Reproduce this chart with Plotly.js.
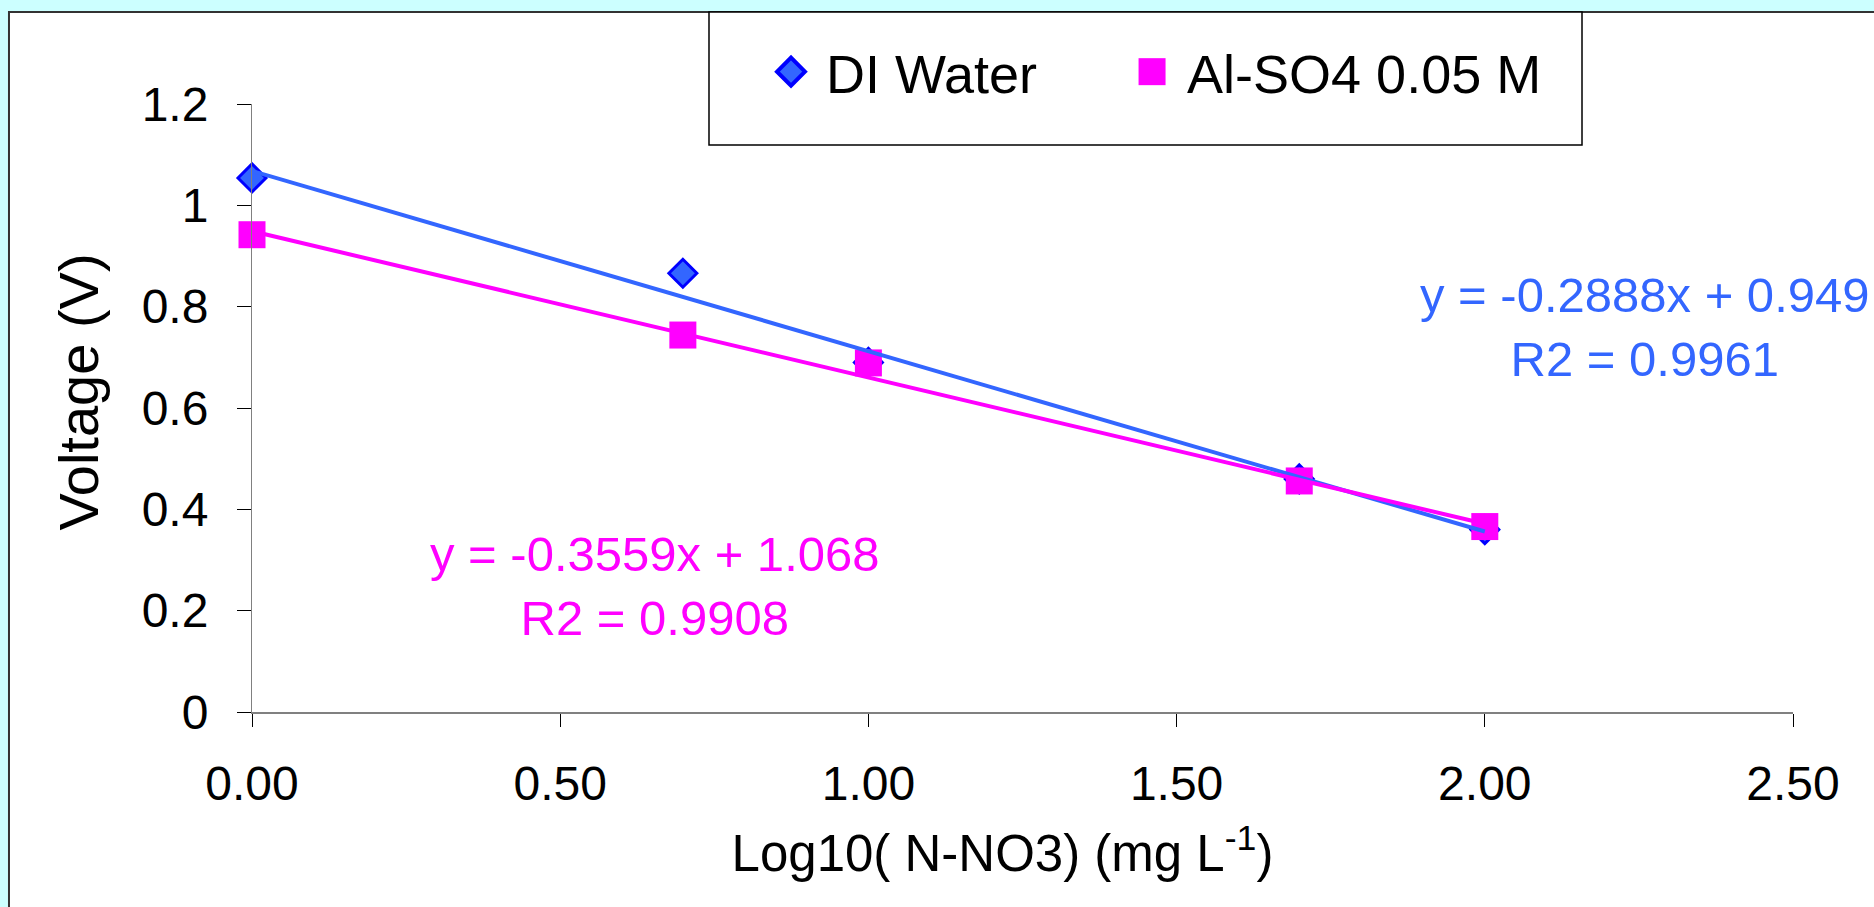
<!DOCTYPE html>
<html>
<head>
<meta charset="utf-8">
<script src="https://cdn.plot.ly/plotly-3.0.1.min.js"></script>
<style>
html, body { margin: 0; padding: 0; background: #CCFFFF; }
#chart { width: 1874px; height: 907px; }
</style>
</head>
<body>
<div id="chart"></div>
<script>
// ---- data ----
const logConc = [0, 0.699, 1.0, 1.699, 2.0];           // Log10( N-NO3 )
const diWater = [1.054, 0.866, 0.690, 0.460, 0.360];    // Voltage (V)
const alSO4   = [0.942, 0.744, 0.689, 0.456, 0.366];    // Voltage (V)
const seriesNames = ['DI Water', 'Al-SO4 0.05 M'];
// trendline coefficients (as printed on the chart; the printed label colours are swapped in the original)
const trendX = [0, 2];
const diTrendCoef = [-0.3559, 1.068];
const alTrendCoef = [-0.2888, 0.949];
const blueLabel = ['y = -0.2888x + 0.949', 'R2 = 0.9961'];
const pinkLabel = ['y = -0.3559x + 1.068', 'R2 = 0.9908'];
const xTickVals = [0, 0.5, 1.0, 1.5, 2.0, 2.5];
const yTickVals = [0, 0.2, 0.4, 0.6, 0.8, 1.0, 1.2];

const FONT = 'Arial, "Liberation Sans", Helvetica, sans-serif';
const BLUE = '#3366FF', BLUE_EDGE = '#0000FF', PINK = '#FF00FF';
const DI_SIZE = 21.5, AL_SIZE = 27;
const NB = '\u00a0';

const trendY = (c) => trendX.map(x => c[0] * x + c[1]);

const traces = [
  { x: logConc, y: diWater, name: NB + seriesNames[0] + NB.repeat(6), type: 'scatter', mode: 'markers',
    cliponaxis: false,
    marker: { symbol: 'diamond', size: DI_SIZE, color: BLUE, line: { color: BLUE_EDGE, width: 3 } } },
  { x: logConc, y: alSO4, name: NB + seriesNames[1], type: 'scatter', mode: 'markers',
    cliponaxis: false,
    marker: { symbol: 'square', size: AL_SIZE, color: PINK, line: { width: 0 } } },
  { x: trendX, y: trendY(diTrendCoef), type: 'scatter', mode: 'lines', showlegend: false,
    cliponaxis: false, line: { color: BLUE, width: 4 }, hoverinfo: 'skip' },
  { x: trendX, y: trendY(alTrendCoef), type: 'scatter', mode: 'lines', showlegend: false,
    cliponaxis: false, line: { color: PINK, width: 4 }, hoverinfo: 'skip' }
];

const layout = {
  width: 1874, height: 907,
  margin: { l: 252, r: 81, t: 104, b: 195, autoexpand: false },
  paper_bgcolor: '#CCFFFF',
  plot_bgcolor: '#FFFFFF',
  font: { family: FONT, color: '#000000' },
  showlegend: true,
  xaxis: {
    range: [0, 2.5], tickvals: xTickVals, tickformat: '.2f',
    ticks: 'outside', ticklen: 13, tickwidth: 1, tickcolor: '#000000',
    showline: true, linecolor: '#808080', linewidth: 2,
    showgrid: false, zeroline: false, fixedrange: true,
    tickfont: { size: 48, family: FONT, color: '#000000' },
    ticklabelstandoff: 15,
    title: { text: 'Log10( N-NO3) (mg L<sup>-1</sup>)', font: { size: 51, family: FONT, color: '#000000' }, standoff: 27 }
  },
  yaxis: {
    range: [0, 1.2], tickvals: yTickVals,
    ticks: 'outside', ticklen: 14, tickwidth: 1, tickcolor: '#000000',
    showline: true, linecolor: '#808080', linewidth: 1,
    showgrid: false, zeroline: false, fixedrange: true,
    tickfont: { size: 48, family: FONT, color: '#000000' },
    ticklabelstandoff: 19,
    title: { text: 'Voltage (V)', font: { size: 56, family: FONT, color: '#000000' }, standoff: 25 }
  },
  legend: {
    orientation: 'h', x: 0.3368, xanchor: 'left', y: 1.1216, yanchor: 'top',
    bgcolor: 'rgba(0,0,0,0)', borderwidth: 0,
    font: { size: 54, family: FONT, color: '#000000' },
    traceorder: 'normal'
  },
  shapes: [
    { type: 'rect', xref: 'paper', yref: 'paper', x0: -0.1577, x1: 1.08, y0: -0.36, y1: 1.1513,
      fillcolor: '#FFFFFF', line: { color: '#333333', width: 2 }, layer: 'below' },
    { type: 'rect', xref: 'paper', yref: 'paper', x0: 0.29656, x1: 0.86308, y0: 0.93257, y1: 1.1513,
      fillcolor: '#FFFFFF', line: { color: '#000000', width: 1.5 }, layer: 'below' }
  ],
  annotations: [
    { xref: 'paper', yref: 'paper', x: 0.9040, y: 0.6340, xanchor: 'center', yanchor: 'middle',
      text: blueLabel.join('<br>'), align: 'center', showarrow: false,
      font: { size: 49, family: FONT, color: BLUE } },
    { xref: 'paper', yref: 'paper', x: 0.2618, y: 0.2070, xanchor: 'center', yanchor: 'middle',
      text: pinkLabel.join('<br>'), align: 'center', showarrow: false,
      font: { size: 49, family: FONT, color: PINK } }
  ]
};

Plotly.newPlot('chart', traces, layout, { staticPlot: true, displayModeBar: false }).then(function (gd) {
  // Plotly caps legend symbols at 16px; enlarge them to match the in-plot markers
  const scales = [DI_SIZE / 16, AL_SIZE / 16];
  gd.querySelectorAll('.legend .traces').forEach(function (tr, i) {
    const s = scales[i] || 1;
    tr.querySelectorAll('.legendpoints path.scatterpts').forEach(function (p) {
      const t = p.getAttribute('transform') || '';
      p.setAttribute('transform', t + ' scale(' + s + ')');
    });
  });
  // the original axis titles sit slightly off the plot-area centre
  const nudge = function (sel, dx, dy) {
    const el = gd.querySelector(sel);
    if (!el) return;
    const t = el.getAttribute('transform') || '';
    el.setAttribute('transform', 'translate(' + dx + ',' + dy + ') ' + t);
  };
  nudge('.xtitle', -20, 0);
  nudge('.ytitle', 0, -16);
});
</script>
</body>
</html>
